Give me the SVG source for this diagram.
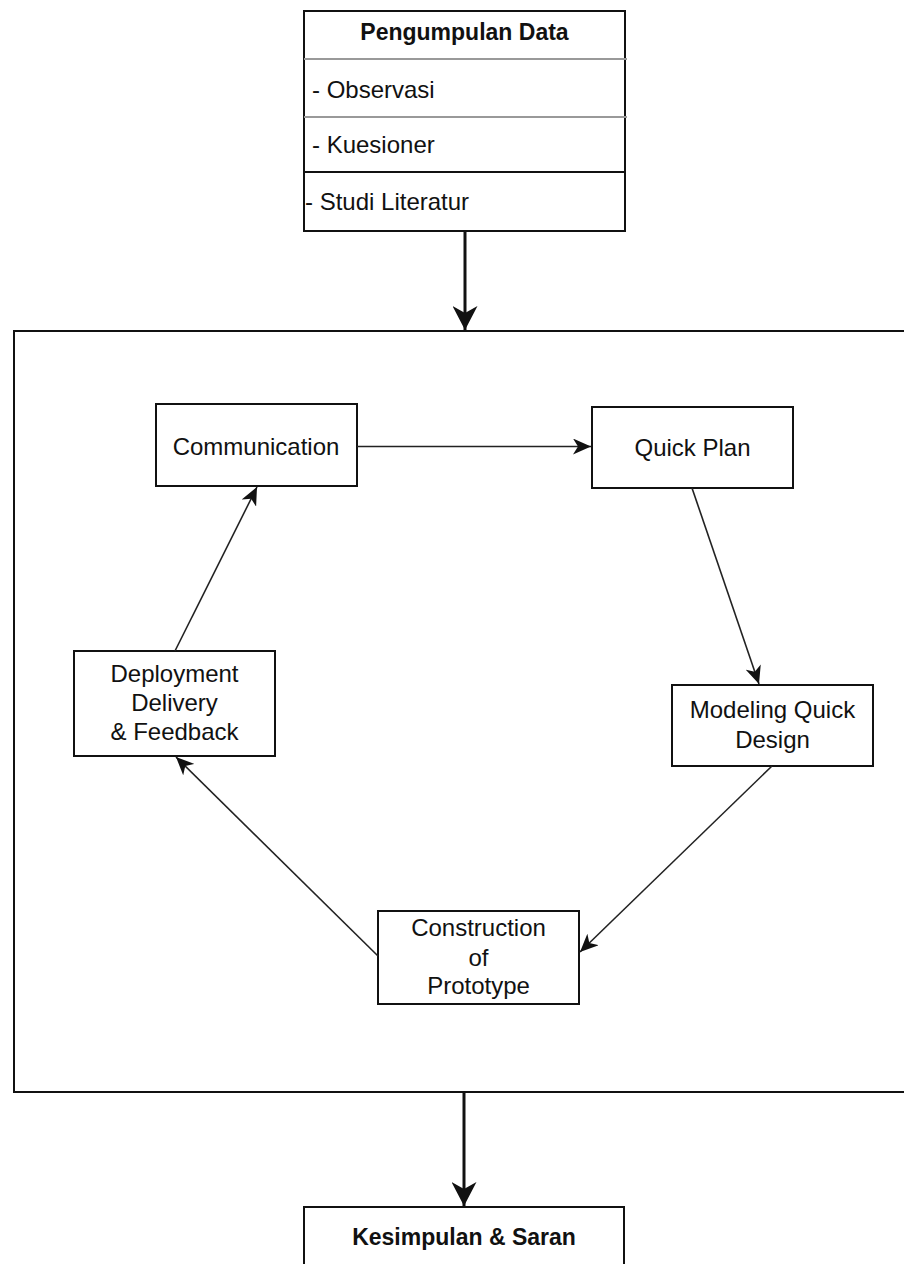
<svg xmlns="http://www.w3.org/2000/svg" width="904" height="1264" viewBox="0 0 904 1264">
<style>
.box{fill:#fff;stroke:#111;stroke-width:2}
.t{font-family:"Liberation Sans",Arial,Helvetica,sans-serif;font-size:24px;fill:#111}
.c{text-anchor:middle}
.b{font-weight:bold;font-size:23px}
.thin{stroke:#222;stroke-width:1.6;fill:none}
.thick{stroke:#111;stroke-width:3;fill:none}
.div{stroke:#999;stroke-width:2}
</style>
<defs>
<marker id="ah" markerUnits="userSpaceOnUse" markerWidth="18" markerHeight="16" viewBox="0 0 18 16" refX="18" refY="8" orient="auto">
<path d="M0,0 L18,8 L0,16 L5,8 Z" fill="#111"/>
</marker>
<marker id="ahb" markerUnits="userSpaceOnUse" markerWidth="24" markerHeight="25" viewBox="0 0 24 25" refX="24" refY="12.5" orient="auto">
<path d="M0,0 L24,12.5 L0,25 L7,12.5 Z" fill="#111"/>
</marker>
</defs>

<g id="container">
<rect class="box" x="14" y="331" width="900" height="761"/>
</g>

<g id="pengumpulan">
<rect class="box" x="304" y="11" width="321" height="220"/>
<line class="div" x1="304" y1="59" x2="627" y2="59"/>
<line class="div" x1="304" y1="117" x2="627" y2="117"/>
<line x1="304" y1="172" x2="625" y2="172" stroke="#111" stroke-width="2"/>
<text class="t c b" x="464.5" y="40">Pengumpulan Data</text>
<text class="t" x="312" y="98">- Observasi</text>
<text class="t" x="312" y="153">- Kuesioner</text>
<text class="t" x="305" y="210">- Studi Literatur</text>
</g>

<g id="communication">
<rect class="box" x="156" y="404" width="201" height="82"/>
<text class="t c" x="256" y="455">Communication</text>
</g>

<g id="quickplan">
<rect class="box" x="592" y="407" width="201" height="81"/>
<text class="t c" x="692.5" y="456">Quick Plan</text>
</g>

<g id="modeling">
<rect class="box" x="672" y="685" width="201" height="81"/>
<text class="t c" x="772.5" y="718">Modeling Quick</text>
<text class="t c" x="772.5" y="748">Design</text>
</g>

<g id="construction">
<rect class="box" x="378" y="911" width="201" height="93"/>
<text class="t c" x="478.5" y="936">Construction</text>
<text class="t c" x="478.5" y="966">of</text>
<text class="t c" x="478.5" y="994">Prototype</text>
</g>

<g id="deployment">
<rect class="box" x="74" y="651" width="201" height="105"/>
<text class="t c" x="174.5" y="682">Deployment</text>
<text class="t c" x="174.5" y="711">Delivery</text>
<text class="t c" x="174.5" y="740">&amp; Feedback</text>
</g>

<g id="kesimpulan">
<rect class="box" x="304" y="1207" width="320" height="80"/>
<text class="t c b" x="464" y="1245">Kesimpulan &amp; Saran</text>
</g>

<g id="connectors">
<line class="thick" x1="465" y1="231" x2="465" y2="330" marker-end="url(#ahb)"/>
<line class="thick" x1="464" y1="1092" x2="464" y2="1206" marker-end="url(#ahb)"/>
<line class="thin" x1="357" y1="446.5" x2="591" y2="446.5" marker-end="url(#ah)"/>
<line class="thin" x1="692" y1="488" x2="759" y2="684" marker-end="url(#ah)"/>
<line class="thin" x1="772" y1="766" x2="580" y2="952" marker-end="url(#ah)"/>
<line class="thin" x1="378" y1="956" x2="176" y2="757" marker-end="url(#ah)"/>
<line class="thin" x1="175" y1="651" x2="257" y2="487" marker-end="url(#ah)"/>
</g>
</svg>
